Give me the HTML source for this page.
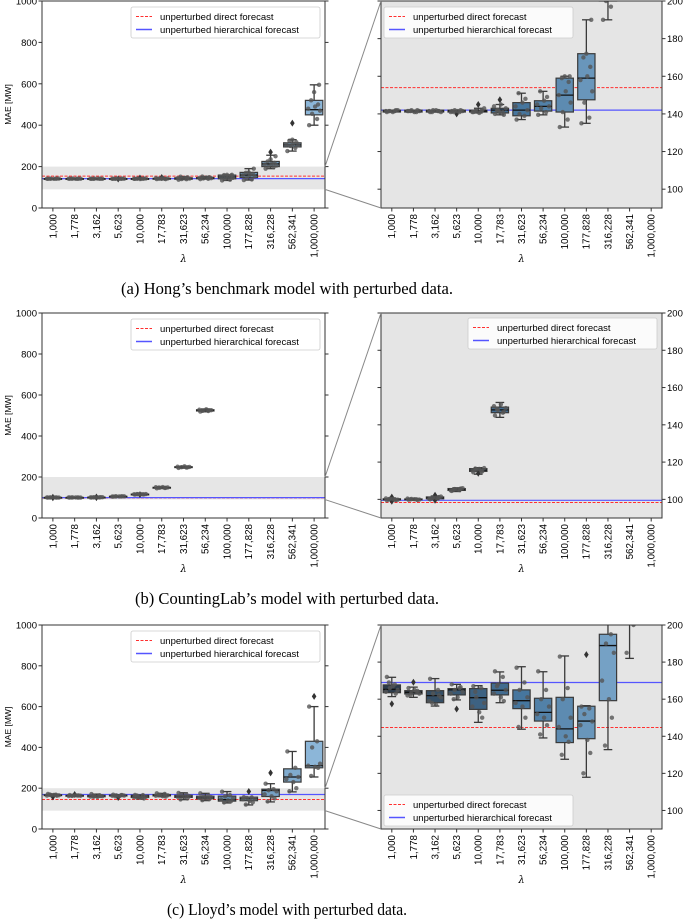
<!DOCTYPE html>
<html><head><meta charset="utf-8"><style>
html,body{margin:0;padding:0;background:#fff;}
svg{display:block;font-family:"Liberation Sans","DejaVu Sans",sans-serif;}
</style></head><body>
<svg id="fig" width="685" height="921" viewBox="0 0 685 921" xmlns="http://www.w3.org/2000/svg"></svg>
<script>
// ---------- data ----------
const categories = ["1,000","1,778","3,162","5,623","10,000","17,783","31,623","56,234","100,000","177,828","316,228","562,341","1,000,000"];

// Panel A: Hong's benchmark
const aQ1  = [141,141,141,141,141,140.5,139,141.5,141,147.5,200,295,450];
const aMed = [141.5,141.5,141.5,141.5,141.5,142,142,144,150,159,213,305,475];
const aQ3  = [142,142,142,142,142,143,146,147,159,172,225,315,520];
const aLo  = [141,141,141,141,140.5,139.5,137,139.5,133,135,190,275,400];
const aHi  = [142,142,142,142,143,145,151,152,160,190,255,330,595];
const aOut = [[],[],[],[140],[145],[147.5],[],[],[],[],[270],[410],[]];
const aPts = [[141,141.5,141.5,142,141.5,141,142,141.5],[141.5,141,142,141.5,141.5,141,142,141.5],[141,141.5,142,141,141.5,142,141.5,141],[141.5,141,142,141.5,141,141.5,142,141],[141,141.5,142,143,141,140.5,142,141.5],[140,141,142,143,144,145,139.5,142,141],[137,139,140,142,144,146,148,151],[139.5,141,143,144,145,147,149,152],[133,137,141,146,150,152,157,159,160,160],[135,138,146,152,158,160,165,170,172,190],[190,197,200,205,210,213,218,225,235,250],[275,290,300,303,306,310,318,325,330],[400,430,455,470,480,490,500,520,560,595]];
const aDirect = 154, aHier = 142;

// Panel B: CountingLab
const bQ1  = [99.7,99.8,100.3,104.8,115,146.5,246,522];
const bMed = [100,100,100.8,105.3,115.7,148,248,525];
const bQ3  = [100.3,100.2,101.3,105.8,116.5,149.5,250,528];
const bLo  = [99.3,99.5,99.8,104.2,113.5,144,243,518];
const bHi  = [100.7,100.5,101.8,106.2,117,152,253,532];
const bOut = [[99,101.2],[],[99.5,102.2],[],[114],[],[],[]];
const bPts = [[99.5,100,100.3,99.8,100.5,100.2,99.6,100],[99.8,100,100.2,99.9,100.4,100.1,99.7,100],[100,100.5,101,101.5,100.3,100.8,101.2,100.6],[104.5,105,105.5,106,104.8,105.3,105.8,105.2],[114.5,115.2,116,116.8,115.5,116.3,115,116.5],[145,146.5,148,149,150,151,147,148.5],[244,246,248,249,250,252,247],[519,522,524,526,528,530,525,523]];
const bDirect = 98.3, bHier = 99.5;

// Panel C: Lloyd
const cQ1  = [163.5,162.8,158.1,162.3,154.5,162.3,154.9,148.2,136.6,138.7,159.2,230,300];
const cMed = [165.3,163.7,161.9,165,160.8,164.8,159.2,152.9,144,148.2,188.9,255,310];
const cQ3  = [167.7,164.6,164.6,165.7,165.7,168.7,165,160.5,161,156.2,195,295,430];
const cLo  = [161.4,161,156.3,159.6,147.5,158.1,143.8,139.1,127.6,117.9,132.8,182,255];
const cHi  = [171.8,166.5,171.1,168,167.3,174.7,177.5,174.8,183.3,156.5,222,380,600];
const cOut = [[157.5],[169.1],[],[154.7],[],[],[],[],[],[184],[275],[],[650]];
const cPts = [[172,168,166,165,164,167,163,169],[166,164,163.5,163,162,165,164.5,162.5],[171,165,163,161,159,157,162,158],[168,166,165,164,163,161,166.5,160],[167,166,161,158,156,153,150,164],[175,172,168,165,163,161,159,167],[177,169,165,161,158,156,150,145],[175,165,160,156,152,150,146,141],[183,166,160,150,145,140,137,130],[156,155,152,148,146,138,131,120],[222,195,190,185,170,160,150,135],[380,300,265,255,245,230,200,185],[600,430,400,320,310,305,300,260]];
const cDirect = 144.7, cHier = 169;

const legendLabels = ["unperturbed direct forecast","unperturbed hierarchical forecast"];
const leftTicks = [0,200,400,600,800,1000];
const rightTicks = [100,120,140,160,180,200];
const captions = ["(a) Hong\u2019s benchmark model with perturbed data.","(b) CountingLab\u2019s model with perturbed data.","(c) Lloyd\u2019s model with perturbed data."];

// ---------- drawing ----------
const NS="http://www.w3.org/2000/svg";
const svg=document.getElementById('fig');
function mk(tag,attrs,parent){const e=document.createElementNS(NS,tag);for(const k in attrs)e.setAttribute(k,attrs[k]);(parent||svg).appendChild(e);return e;}
const anchors=[[44,59,74],[70,118,158],[140,182,216]];
function boxColor(i){const t=i/12;let c;
 if(t<0.5){const u=t/0.5;c=[0,1,2].map(k=>Math.round(anchors[0][k]+(anchors[1][k]-anchors[0][k])*u));}
 else{const u=(t-0.5)/0.5;c=[0,1,2].map(k=>Math.round(anchors[1][k]+(anchors[2][k]-anchors[1][k])*u));}
 return `rgb(${c[0]},${c[1]},${c[2]})`;}
const jit=[-5,3,-2,6,-6,1,4,-3,0,5,-4,2];
let clipId=0;

function drawAxes(p,ax,kind,S,legendPos){
  const {x0,x1,top,bot}=ax;const h=bot-top;
  const yv = kind==='left' ? v=>top+(1000-v)/1000*h : v=>top+(200-v)/110*h;
  const sp=(x1-x0)/13; const xc=i=>x0+sp*(i+0.5);
  const g=mk('g',{});
  
  
  const cid='clip'+(clipId++);
  const cp=mk('clipPath',{id:cid},g);mk('rect',{x:x0,y:top,width:x1-x0,height:h},cp);
  if(kind==='left'){
    mk('rect',{x:x0,y:top,width:x1-x0,height:h,fill:'#fff'},g);
    const band=mk('rect',{x:x0,y:yv(200),width:x1-x0,height:yv(90)-yv(200),fill:'#e6e6e6'},g);
    
    
  } else {
    mk('rect',{x:x0,y:top,width:x1-x0,height:h,fill:'#e5e5e5'},g);
  }
  const pg=mk('g',{'clip-path':`url(#${cid})`},g);
  const dl=mk('line',{x1:x0,x2:x1,y1:yv(S.direct),y2:yv(S.direct),stroke:'#ff3030','stroke-width':1,'stroke-dasharray':'3,1.5'},pg);
  
  
  const hl=mk('line',{x1:x0,x2:x1,y1:yv(S.hier),y2:yv(S.hier),stroke:'#5555ff','stroke-width':1.2},pg);
  
  
  const bw=sp*0.8;
  for(let i=0;i<S.q1.length;i++){
    const cx=xc(i);
    const bg=mk('g',{},pg);
    
    
    const ec='#3a3a3a';
    mk('line',{x1:cx,x2:cx,y1:yv(S.hi[i]),y2:yv(S.q3[i]),stroke:ec,'stroke-width':1.3},bg);
    mk('line',{x1:cx,x2:cx,y1:yv(S.q1[i]),y2:yv(S.lo[i]),stroke:ec,'stroke-width':1.3},bg);
    mk('line',{x1:cx-bw/4,x2:cx+bw/4,y1:yv(S.hi[i]),y2:yv(S.hi[i]),stroke:ec,'stroke-width':1.3},bg);
    mk('line',{x1:cx-bw/4,x2:cx+bw/4,y1:yv(S.lo[i]),y2:yv(S.lo[i]),stroke:ec,'stroke-width':1.3},bg);
    mk('rect',{x:cx-bw/2,y:yv(S.q3[i]),width:bw,height:Math.max(0.8,yv(S.q1[i])-yv(S.q3[i])),fill:boxColor(i),stroke:ec,'stroke-width':1.2},bg);
    mk('line',{x1:cx-bw/2,x2:cx+bw/2,y1:yv(S.med[i]),y2:yv(S.med[i]),stroke:'#111','stroke-width':1.3},bg);
    (S.out[i]||[]).forEach(v=>{const y=yv(v);
      const d=mk('path',{d:`M${cx},${y-3.5}L${cx+2.3},${y}L${cx},${y+3.5}L${cx-2.3},${y}Z`,fill:'#333'},bg);
      
      });
    (S.pts[i]||[]).forEach((v,k)=>{
      const c=mk('circle',{cx:cx+jit[k%jit.length]*sp/22,cy:yv(v),r:2.2,fill:'#555','fill-opacity':0.8},bg);
      
      });
  }
  mk('rect',{x:x0,y:top,width:x1-x0,height:h,fill:'none',stroke:'#333','stroke-width':1},g);
  categories.forEach((c,i)=>{const x=xc(i);
    mk('line',{x1:x,x2:x,y1:bot,y2:bot+3.5,stroke:'#333'},g);
    const t=mk('text',{x:0,y:0,transform:`translate(${x+3.4},${bot+6}) rotate(-90)`,'text-anchor':'end','font-size':9.8,fill:'#000'},g);
    t.textContent=c;
    
    });
  const xl=mk('text',{x:(x0+x1)/2,y:bot+54,'text-anchor':'middle','font-size':10,'font-style':'italic','font-family':'"DejaVu Serif",serif'},g);
  xl.textContent='\u03bb';
  
  
  const ticks = kind==='left'?leftTicks:rightTicks;
  ticks.forEach(v=>{const y=yv(v);
    mk('line',{x1:x0-3.5,x2:x0,y1:y,y2:y,stroke:'#333'},g);
    mk('line',{x1:x1,x2:x1+3.5,y1:y,y2:y,stroke:'#333'},g);
    const t = kind==='left'
      ? mk('text',{x:x0-5,y:y+3.5,'text-anchor':'end','font-size':9.5},g)
      : mk('text',{x:x1+5,y:y+3.5,'text-anchor':'start','font-size':9.5},g);
    t.textContent=v;
    
    });
  if(kind==='left'){
    const yl=mk('text',{x:0,y:0,transform:`translate(11,${(top+bot)/2}) rotate(-90)`,'text-anchor':'middle','font-size':8.5},g);
    yl.textContent='MAE [MW]';
    
    
  }
  const [lx,ly]=legendPos;
  const lg=mk('g',{},g);
  
  
  mk('rect',{x:lx,y:ly,width:189,height:31,rx:2,fill:'#fff','fill-opacity':0.85,stroke:'#ccc','stroke-width':0.8},lg);
  mk('line',{x1:lx+5,x2:lx+21,y1:ly+9.5,y2:ly+9.5,stroke:'#ff3030','stroke-dasharray':'3,1.5','stroke-width':1},lg);
  mk('line',{x1:lx+5,x2:lx+21,y1:ly+22.5,y2:ly+22.5,stroke:'#5555ff','stroke-width':1.5},lg);
  legendLabels.forEach((s,k)=>{const t=mk('text',{x:lx+29,y:ly+13+k*13,'font-size':9.5},lg);
    t.textContent=s;
    
    });
  return yv;
}

function panel(p,top,bot,S,legL,legR,cap,capW){
  const L={x0:42,x1:325,top,bot}, R={x0:381,x1:662,top,bot};
  const yl=drawAxes(p,L,'left',S,legL);
  drawAxes(p,R,'right',S,legR);
  const c1=mk('line',{x1:325,y1:yl(200),x2:381,y2:top,stroke:'#888','stroke-width':1});
  
  
  const c2=mk('line',{x1:325,y1:yl(90),x2:381,y2:bot,stroke:'#888','stroke-width':1});
  
  
  const t=mk('text',{x:287,y:bot+86,'text-anchor':'middle','font-size':17,'font-family':'"Liberation Serif","DejaVu Serif",serif',textLength:capW,lengthAdjust:'spacingAndGlyphs'});
  t.textContent=cap;
  
  
}

panel('a',1,208,{q1:aQ1,med:aMed,q3:aQ3,lo:aLo,hi:aHi,out:aOut,pts:aPts,direct:aDirect,hier:aHier},[131,7],[384,7],captions[0],332);
panel('b',313,518,{q1:bQ1,med:bMed,q3:bQ3,lo:bLo,hi:bHi,out:bOut,pts:bPts,direct:bDirect,hier:bHier},[131,319],[468,318],captions[1],304);
panel('c',625,829,{q1:cQ1,med:cMed,q3:cQ3,lo:cLo,hi:cHi,out:cOut,pts:cPts,direct:cDirect,hier:cHier},[131,631],[384,795],captions[2],240);
</script>
</body></html>
